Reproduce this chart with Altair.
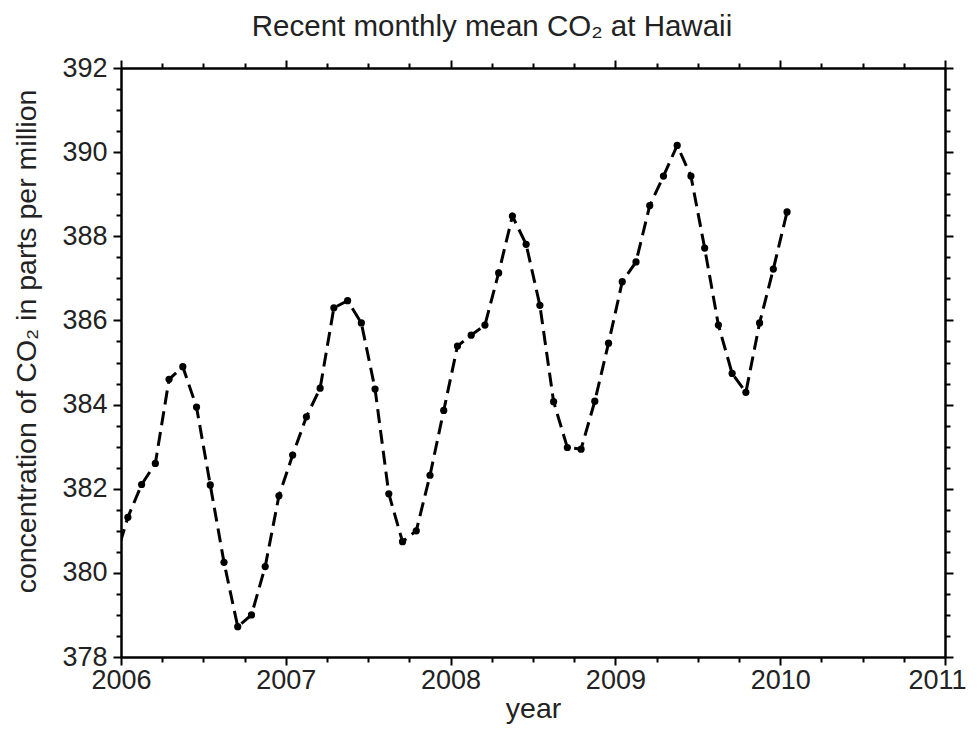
import altair as alt
import pandas as pd

# monthly mean CO2 (ppm), Dec 2005 .. Jan 2010
months = ["2005-12"] + [f"{y}-{m:02d}" for y in (2006, 2007, 2008, 2009) for m in range(1, 13)] + ["2010-01"]
co2 = [
    380.24,
    381.32, 382.10, 382.60, 384.60, 384.90, 383.94, 382.09, 380.25, 378.72, 379.00, 380.15, 381.83,
    382.80, 383.71, 384.39, 386.30, 386.47, 385.94, 384.37, 381.88, 380.74, 381.00, 382.32, 383.86,
    385.39, 385.65, 385.89, 387.13, 388.48, 387.81, 386.36, 384.07, 382.98, 382.94, 384.08, 385.46,
    386.92, 387.39, 388.73, 389.43, 390.16, 389.43, 387.72, 385.89, 384.74, 384.29, 385.94, 387.22,
    388.58,
]
x_ticks = [2006 + i * 0.25 for i in range(21)]
y_ticks = [378 + i * 0.5 for i in range(29)]

years = [int(s[:4]) + (int(s[5:]) - 0.5) / 12 for s in months]
df = pd.DataFrame({"year": years, "co2": co2})

FONT = "Liberation Sans"
TXT = "#222222"

x_major = {"condition": {"test": "datum.value % 1 === 0", "value": 8}, "value": 5}
y_major = {"condition": {"test": "datum.value % 2 === 0", "value": 8}, "value": 5}

common = dict(
    grid=False, domainColor="black", domainWidth=2.5, tickColor="black", tickWidth=2,
    labelFont=FONT, labelFontSize=27, labelColor=TXT,
    titleFont=FONT, titleFontSize=28.5, titleFontWeight="normal", titleColor=TXT,
)

xs = alt.Scale(domain=[2006, 2011], nice=False, zero=False)
ys = alt.Scale(domain=[378, 392], nice=False, zero=False)

line = alt.Chart(df).mark_line(
    color="black", strokeWidth=3, strokeDash=[14, 7], clip=True
).encode(
    x=alt.X("year:Q", scale=xs, axis=alt.Axis(
        orient="bottom", values=x_ticks, tickSize=x_major,
        labelExpr="datum.value % 1 === 0 ? format(datum.value, 'd') : ''",
        labelOffset={"condition": {"test": "datum.value === 2011", "value": -8}, "value": 0},
        labelFlush=False, labelOverlap=False, labelPadding=2,
        title="year", titlePadding=1, **common)),
    y=alt.Y("co2:Q", scale=ys, axis=alt.Axis(
        orient="left", values=y_ticks, tickSize=y_major,
        labelExpr="datum.value % 2 === 0 ? format(datum.value, 'd') : ''",
        labelFlush=False, labelOverlap=False, labelPadding=6,
        title="concentration of CO₂ in parts per million", titlePadding=20,
        titleY=273, **common)),
)

points = alt.Chart(df).mark_circle(color="black", opacity=1, size=52, clip=True).encode(
    x=alt.X("year:Q", scale=xs, axis=alt.Axis(
        orient="top", values=x_ticks, tickSize=x_major, labels=False, title=None, **common)),
    y=alt.Y("co2:Q", scale=ys, axis=alt.Axis(
        orient="right", values=y_ticks, tickSize=y_major, labels=False, title=None, **common)),
)

chart = alt.layer(line, points).resolve_axis(x="independent", y="independent").properties(
    width=824,
    height=589,
    autosize=alt.AutoSizeParams(type="none"),
    padding={"left": 113, "top": 60, "right": 24, "bottom": 69},
    title=alt.TitleParams(
        text="Recent monthly mean CO₂ at Hawaii", font=FONT, fontSize=29.5,
        fontWeight="normal", color=TXT, dx=-41, offset=12, anchor="middle",
    ),
).configure_view(stroke=None).configure(background="white")

chart.save("out.html", embed_options={"renderer": "svg", "actions": False})
